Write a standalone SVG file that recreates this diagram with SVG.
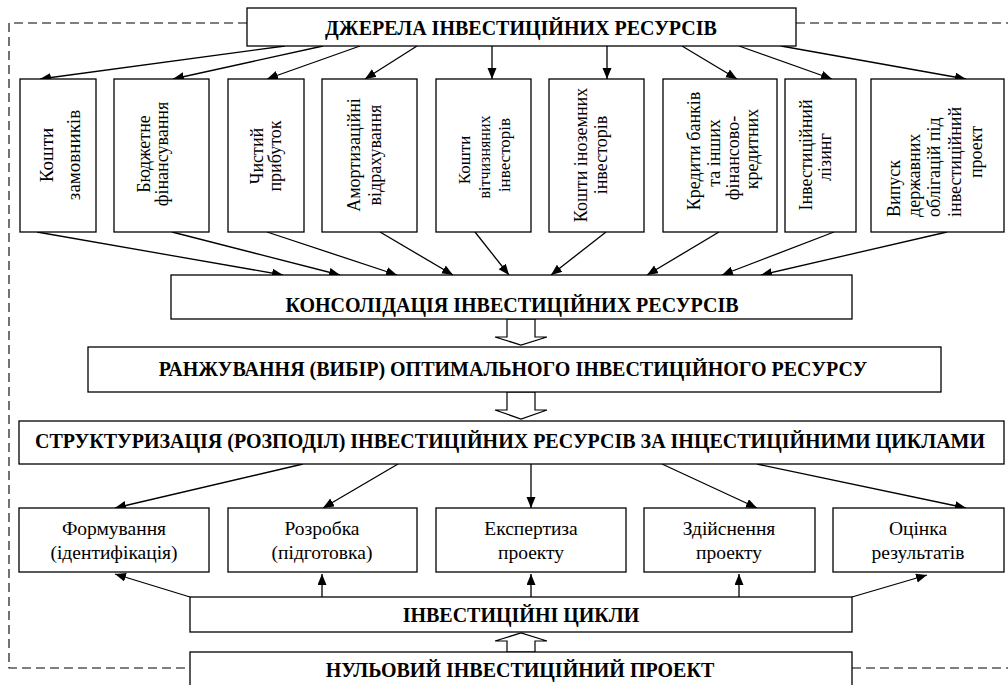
<svg xmlns="http://www.w3.org/2000/svg" width="1008" height="685" viewBox="0 0 1008 685">
<style>
.box{fill:#fff;stroke:#000;stroke-width:1.3}
.ln{fill:none;stroke:#000;stroke-width:1.3}
.dash{fill:none;stroke:#000;stroke-width:1.1;stroke-dasharray:9 5}
.hd{font-family:"Liberation Serif","Times New Roman",serif;font-weight:bold;font-size:20px;text-anchor:middle;fill:#000}
.tx{font-family:"Liberation Serif","Times New Roman",serif;font-size:18px;text-anchor:middle;fill:#000}
.bt{font-family:"Liberation Serif","Times New Roman",serif;font-size:19.5px;text-anchor:middle;fill:#000}
.hollow{fill:#fff;stroke:#000;stroke-width:1.2}
</style>
<defs>
<marker id="ah" markerUnits="userSpaceOnUse" markerWidth="12" markerHeight="10" refX="11" refY="4.5" orient="auto">
<path d="M0,0 L11,4.5 L0,9 z" fill="#000"/>
</marker>
</defs>
<g id="frame">
<polyline class="dash" points="247,23 9,23 9,668 190,668"/>
<line class="dash" x1="796" y1="23" x2="1008" y2="23"/>
<line class="dash" x1="852" y1="668" x2="1008" y2="668"/>
</g>
<g id="connectors">
<line class="ln" x1="285" y1="46" x2="40" y2="79" marker-end="url(#ah)"/>
<line class="ln" x1="323" y1="46" x2="173" y2="79" marker-end="url(#ah)"/>
<line class="ln" x1="360" y1="46" x2="267" y2="79" marker-end="url(#ah)"/>
<line class="ln" x1="417" y1="46" x2="365" y2="79" marker-end="url(#ah)"/>
<line class="ln" x1="492" y1="46" x2="492" y2="79" marker-end="url(#ah)"/>
<line class="ln" x1="607" y1="46" x2="607" y2="79" marker-end="url(#ah)"/>
<line class="ln" x1="682" y1="46" x2="737" y2="79" marker-end="url(#ah)"/>
<line class="ln" x1="739" y1="46" x2="832" y2="79" marker-end="url(#ah)"/>
<line class="ln" x1="781" y1="46" x2="966" y2="79" marker-end="url(#ah)"/>
<line class="ln" x1="37" y1="232" x2="283" y2="275" marker-end="url(#ah)"/>
<line class="ln" x1="172" y1="232" x2="340" y2="275" marker-end="url(#ah)"/>
<line class="ln" x1="267" y1="232" x2="397" y2="275" marker-end="url(#ah)"/>
<line class="ln" x1="380" y1="232" x2="453" y2="275" marker-end="url(#ah)"/>
<line class="ln" x1="475" y1="232" x2="509" y2="275" marker-end="url(#ah)"/>
<line class="ln" x1="606" y1="232" x2="551" y2="275" marker-end="url(#ah)"/>
<line class="ln" x1="719" y1="232" x2="647" y2="275" marker-end="url(#ah)"/>
<line class="ln" x1="834" y1="232" x2="722" y2="275" marker-end="url(#ah)"/>
<line class="ln" x1="947" y1="232" x2="761" y2="275" marker-end="url(#ah)"/>
<polygon class="hollow" points="507,319 507,337 495,337 521,345 547,337 535,337 535,319"/>
<polygon class="hollow" points="507,392 507,410 495,410 521,419 547,410 535,410 535,392"/>
<line class="ln" x1="303" y1="464" x2="115" y2="508" marker-end="url(#ah)"/>
<line class="ln" x1="398" y1="464" x2="323" y2="508" marker-end="url(#ah)"/>
<line class="ln" x1="531" y1="464" x2="531" y2="508" marker-end="url(#ah)"/>
<line class="ln" x1="662" y1="464" x2="757" y2="508" marker-end="url(#ah)"/>
<line class="ln" x1="757" y1="464" x2="966" y2="508" marker-end="url(#ah)"/>
<line class="ln" x1="190" y1="597" x2="115" y2="574" marker-end="url(#ah)"/>
<line class="ln" x1="322" y1="597" x2="322" y2="574" marker-end="url(#ah)"/>
<line class="ln" x1="531" y1="597" x2="531" y2="574" marker-end="url(#ah)"/>
<line class="ln" x1="739" y1="597" x2="739" y2="574" marker-end="url(#ah)"/>
<line class="ln" x1="852" y1="597" x2="927" y2="575" marker-end="url(#ah)"/>
<polygon class="hollow" points="507,652 507,641 495,641 521,633 547,641 535,641 535,652"/>
</g>
<g id="sources">
<rect class="box" x="247" y="8" width="549" height="38"/>
<text class="hd" x="521" y="35">ДЖЕРЕЛА ІНВЕСТИЦІЙНИХ РЕСУРСІВ</text>
</g>
<g id="s1">
<rect class="box" x="20" y="79" width="76" height="153"/>
<text class="tx" style="font-size:19px" transform="rotate(-90 53 155)" x="53" y="155">Кошти</text>
<text class="tx" style="font-size:19px" transform="rotate(-90 80 155)" x="80" y="155">замовників</text>
</g>
<g id="s2">
<rect class="box" x="114" y="79" width="95" height="153"/>
<text class="tx" transform="rotate(-90 150 154)" x="150" y="154">Бюджетне</text>
<text class="tx" transform="rotate(-90 168 154)" x="168" y="154">фінансування</text>
</g>
<g id="s3">
<rect class="box" x="228" y="79" width="76" height="153"/>
<text class="tx" transform="rotate(-90 263 156)" x="263" y="156">Чистий</text>
<text class="tx" transform="rotate(-90 281 156)" x="281" y="156">прибуток</text>
</g>
<g id="s4">
<rect class="box" x="322" y="79" width="95" height="153"/>
<text class="tx" transform="rotate(-90 360 155)" x="360" y="155">Амортизаційні</text>
<text class="tx" transform="rotate(-90 381 155)" x="381" y="155">відрахування</text>
</g>
<g id="s5">
<rect class="box" x="436" y="79" width="95" height="153"/>
<text class="tx" style="font-size:17px" transform="rotate(-90 470 160)" x="470" y="160">Кошти</text>
<text class="tx" style="font-size:16px" transform="rotate(-90 490 157)" x="490" y="157">вітчизняних</text>
<text class="tx" style="font-size:17px" transform="rotate(-90 510 155)" x="510" y="155">інвесторів</text>
</g>
<g id="s6">
<rect class="box" x="549" y="79" width="95" height="153"/>
<text class="tx" transform="rotate(-90 587 155)" x="587" y="155">Кошти іноземних</text>
<text class="tx" transform="rotate(-90 607 155)" x="607" y="155">інвесторів</text>
</g>
<g id="s7">
<rect class="box" x="663" y="79" width="114" height="153"/>
<text class="tx" transform="rotate(-90 700 151)" x="700" y="151">Кредити банків</text>
<text class="tx" transform="rotate(-90 720 153)" x="720" y="153">та інших</text>
<text class="tx" transform="rotate(-90 739 158)" x="739" y="158">фінансово-</text>
<text class="tx" transform="rotate(-90 758 149)" x="758" y="149">кредитних</text>
</g>
<g id="s8">
<rect class="box" x="785" y="79" width="71" height="153"/>
<text class="tx" transform="rotate(-90 812 155)" x="812" y="155">Інвестиційний</text>
<text class="tx" transform="rotate(-90 831 157)" x="831" y="157">лізинг</text>
</g>
<g id="s9">
<rect class="box" x="871" y="79" width="133" height="153"/>
<text class="tx" style="text-anchor:start" transform="rotate(-90 900 217)" x="900" y="217">Випуск</text>
<text class="tx" style="text-anchor:start" transform="rotate(-90 920 217)" x="920" y="217">державних</text>
<text class="tx" style="text-anchor:start" transform="rotate(-90 940 217)" x="940" y="217">облігацій під</text>
<text class="tx" style="text-anchor:start" transform="rotate(-90 961 217)" x="961" y="217">інвестиційний</text>
<text class="tx" transform="rotate(-90 982 152)" x="982" y="152">проект</text>
</g>
<g id="consolidation">
<rect class="box" x="171" y="275" width="681" height="44"/>
<text class="hd" x="512" y="312">КОНСОЛІДАЦІЯ ІНВЕСТИЦІЙНИХ РЕСУРСІВ</text>
</g>
<g id="ranking">
<rect class="box" x="88" y="347" width="853" height="45"/>
<text class="hd" x="513" y="376">РАНЖУВАННЯ (ВИБІР) ОПТИМАЛЬНОГО ІНВЕСТИЦІЙНОГО РЕСУРСУ</text>
</g>
<g id="structuring">
<rect class="box" x="19" y="421" width="985" height="43"/>
<text class="hd" x="510" y="448">СТРУКТУРИЗАЦІЯ (РОЗПОДІЛ) ІНВЕСТИЦІЙНИХ РЕСУРСІВ ЗА ІНЦЕСТИЦІЙНИМИ ЦИКЛАМИ</text>
</g>
<g id="c1">
<rect class="box" x="19" y="508" width="190" height="64"/>
<text class="bt" x="114" y="535">Формування</text>
<text class="bt" x="114" y="559">(ідентифікація)</text>
</g>
<g id="c2">
<rect class="box" x="228" y="508" width="189" height="64"/>
<text class="bt" x="322" y="535">Розробка</text>
<text class="bt" x="322" y="559">(підготовка)</text>
</g>
<g id="c3">
<rect class="box" x="436" y="508" width="190" height="64"/>
<text class="bt" x="531" y="535">Експертиза</text>
<text class="bt" x="531" y="559">проекту</text>
</g>
<g id="c4">
<rect class="box" x="644" y="508" width="171" height="64"/>
<text class="bt" x="729" y="535">Здійснення</text>
<text class="bt" x="729" y="559">проекту</text>
</g>
<g id="c5">
<rect class="box" x="833" y="508" width="171" height="64"/>
<text class="bt" x="918" y="535">Оцінка</text>
<text class="bt" x="918" y="559">результатів</text>
</g>
<g id="cycles">
<rect class="box" x="190" y="597" width="662" height="35"/>
<text class="hd" x="521" y="622">ІНВЕСТИЦІЙНІ ЦИКЛИ</text>
</g>
<g id="zero">
<rect class="box" x="190" y="652" width="662" height="40"/>
<text class="hd" x="520" y="677">НУЛЬОВИЙ ІНВЕСТИЦІЙНИЙ ПРОЕКТ</text>
</g>
</svg>
